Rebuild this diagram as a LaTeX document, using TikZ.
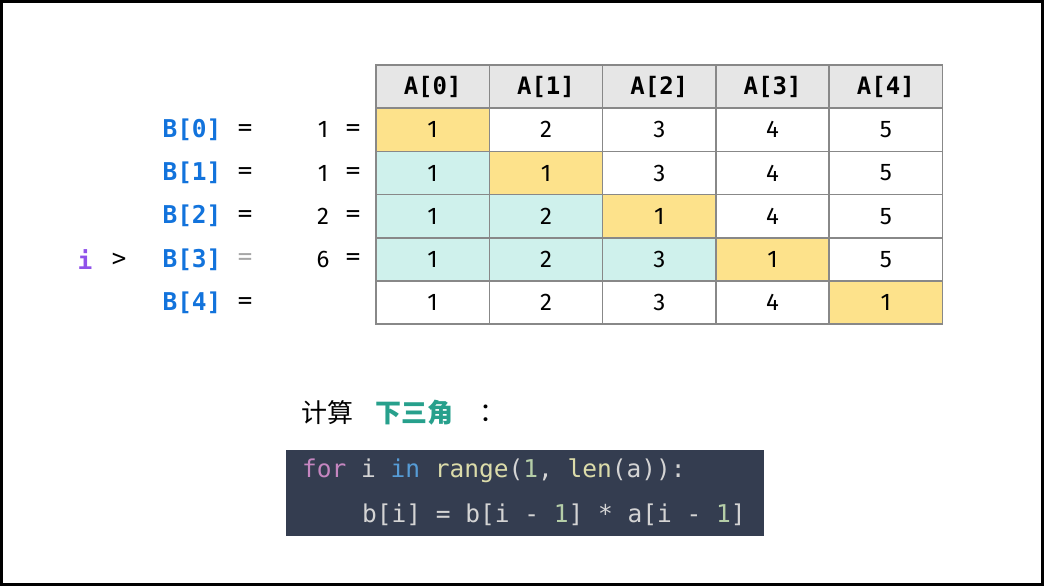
\documentclass[tikz,border=0pt]{standalone}
\usepackage{fontspec}
\setmainfont{Fira Sans}
\setmonofont{DejaVu Sans Mono}
\newfontfamily\cjk{Noto Sans CJK SC}
\definecolor{diagyellow}{HTML}{FDE28B}
\definecolor{lowteal}{HTML}{CFF1EC}
\definecolor{headgray}{HTML}{E6E6E6}
\definecolor{gridgray}{HTML}{888888}
\definecolor{idxblue}{HTML}{1273DC}
\definecolor{ptrpurple}{HTML}{9052EA}
\definecolor{tritext}{HTML}{27A08C}
\definecolor{codebg}{HTML}{343D50}
\definecolor{kwpink}{HTML}{C586C0}
\definecolor{kwblue}{HTML}{569CD6}
\definecolor{fnyellow}{HTML}{DCDCAA}
\definecolor{numgreen}{HTML}{B5CEA8}
\definecolor{codetext}{HTML}{D4D4D4}
\tikzset{
  cell/.style={draw=gridgray, line width=1.5pt, minimum width=113.3pt, minimum height=43.2pt, inner sep=0pt, font=\fontsize{24}{28}\selectfont},
  head/.style={cell, fill=headgray, font=\fontsize{24}{28}\selectfont\ttfamily\bfseries},
  blabel/.style={text=idxblue, font=\fontsize{24.5}{28}\selectfont\ttfamily\bfseries},
  eqsign/.style={font=\fontsize{24}{28}\selectfont\ttfamily},
  plainnum/.style={font=\fontsize{24}{28}\selectfont},
  codeline/.style={anchor=west, inner sep=0pt, text=codetext, font=\fontsize{24.5}{30}\selectfont\ttfamily},
  cjktext/.style={anchor=west, inner sep=0pt, font=\fontsize{26}{30}\selectfont\cjk},
}
\begin{document}
\begin{tikzpicture}[x=1pt,y=-1pt]
\useasboundingbox (0,0) rectangle (1044,586);
\draw[line width=3pt] (1.5,1.5) rectangle (1042.5,584.5);
% header row
\foreach \c in {0,...,4}
  \node[head] (h\c) at ({376+113.3*(\c+0.5)},86.6) {A[\c]};
% the table
\foreach \r in {0,...,4}{
  \foreach \c in {0,...,4}{
    \pgfmathtruncatemacro\val{\c==\r ? 1 : \c+1}
    \def\cellcol{white}
    \ifnum\c<\r \ifnum\r<4 \def\cellcol{lowteal}\fi\fi
    \ifnum\c=\r \def\cellcol{diagyellow}\fi
    \node[cell, fill=\cellcol] (a\r\c) at ({376+113.3*(\c+0.5)},{65+43.2*(\r+1.5)}) {\val};
  }
}
% left labels
\foreach \r/\eqcol in {0/black,1/black,2/black,3/gray!70,4/black}{
  \node[blabel] (b\r) at (192,{65+43.2*(\r+1.5)}) {B[\r]};
  \node[eqsign, text=\eqcol] (eq\r) at (245,{65+43.2*(\r+1.5)}) {=};
}
\foreach \r/\v in {0/1,1/1,2/2,3/6}{
  \node[plainnum] (v\r) at (323,{65+43.2*(\r+1.5)}) {\v};
  \node[eqsign] (eqv\r) at (353,{65+43.2*(\r+1.5)}) {=};
}
\node[blabel, text=ptrpurple] (ptr) at (85,259.4) {i};
\node[eqsign] (gt) at (119,259.4) {>};
% caption
\node[cjktext] (calc) at (301,413) {计算};
\node[cjktext, text=tritext, font=\fontsize{26}{30}\selectfont\cjk\bfseries] (tri) at (375,413) {下三角};
\node[cjktext] (colon) at (479,413) {：};
% code
\node[fill=codebg, minimum width=478pt, minimum height=86pt, anchor=north west, inner sep=0pt] (code) at (286,450) {};
\node[codeline] (line1) at (302,471) {\textcolor{kwpink}{for} i \textcolor{kwblue}{in} \textcolor{fnyellow}{range}(\textcolor{numgreen}{1}, \textcolor{fnyellow}{len}(a)):};
\node[codeline] (line2) at (362,515) {b[i] = b[i - \textcolor{numgreen}{1}] * a[i - \textcolor{numgreen}{1}]};
\end{tikzpicture}
\end{document}
